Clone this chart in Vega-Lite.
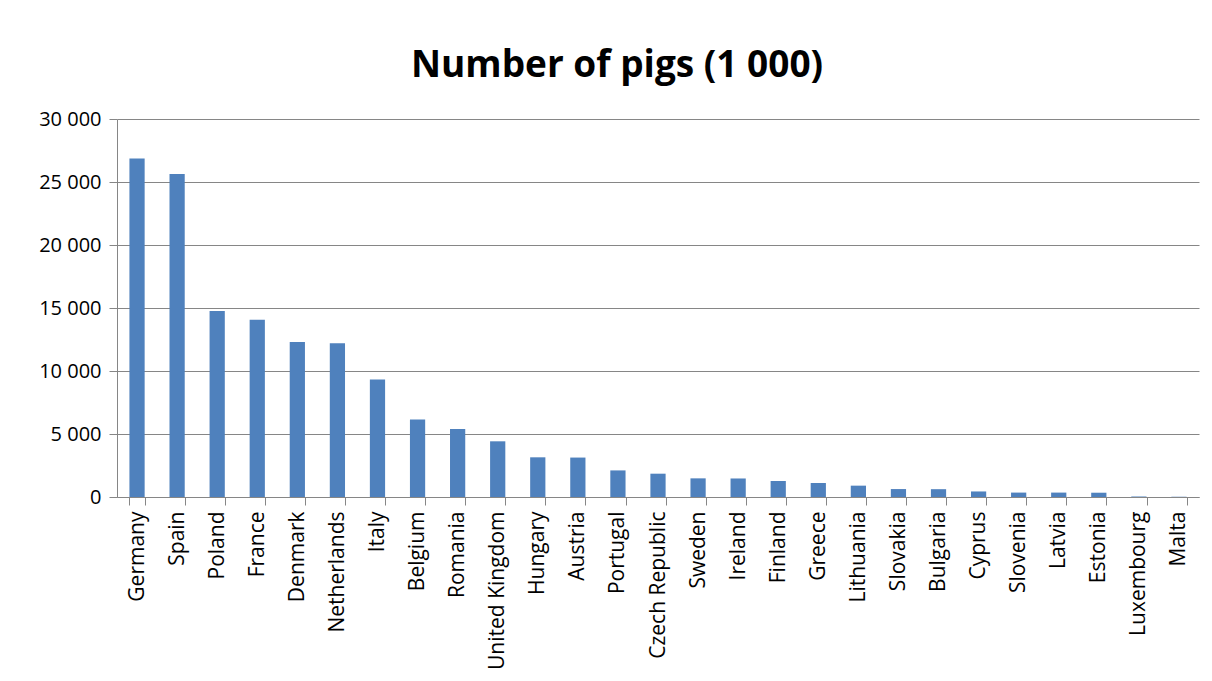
{
  "$schema": "https://vega.github.io/schema/vega-lite/v6.json",
  "width": 1082,
  "height": 378,
  "autosize": {"type": "none"},
  "padding": {"left": 117, "top": 119, "right": 13, "bottom": 184},
  "background": "white",
  "title": {
    "text": "Number of pigs (1 000)",
    "font": "Open Sans",
    "fontSize": 37,
    "fontWeight": "bold",
    "color": "black",
    "anchor": "middle",
    "dx": -41,
    "offset": 24
  },
  "data": {
    "values": [
      {"country": "Germany", "pigs": 26870},
      {"country": "Spain", "pigs": 25630},
      {"country": "Poland", "pigs": 14760},
      {"country": "France", "pigs": 14070},
      {"country": "Denmark", "pigs": 12300},
      {"country": "Netherlands", "pigs": 12200},
      {"country": "Italy", "pigs": 9330},
      {"country": "Belgium", "pigs": 6150},
      {"country": "Romania", "pigs": 5390},
      {"country": "United Kingdom", "pigs": 4420},
      {"country": "Hungary", "pigs": 3150},
      {"country": "Austria", "pigs": 3130},
      {"country": "Portugal", "pigs": 2110},
      {"country": "Czech Republic", "pigs": 1850},
      {"country": "Sweden", "pigs": 1480},
      {"country": "Ireland", "pigs": 1470},
      {"country": "Finland", "pigs": 1270},
      {"country": "Greece", "pigs": 1110},
      {"country": "Lithuania", "pigs": 900},
      {"country": "Slovakia", "pigs": 630},
      {"country": "Bulgaria", "pigs": 620},
      {"country": "Cyprus", "pigs": 440},
      {"country": "Slovenia", "pigs": 350},
      {"country": "Latvia", "pigs": 350},
      {"country": "Estonia", "pigs": 340},
      {"country": "Luxembourg", "pigs": 30},
      {"country": "Malta", "pigs": 20}
    ]
  },
  "mark": {"type": "bar", "color": "#4F81BD"},
  "encoding": {
    "x": {
      "field": "country",
      "type": "nominal",
      "sort": null,
      "scale": {"paddingInner": 0.62, "paddingOuter": 0.31},
      "axis": {
        "title": null,
        "labelAngle": -90,
        "labelAlign": "right",
        "labelBaseline": "middle",
        "labelFont": "Open Sans",
        "labelFontSize": 21,
        "labelColor": "black",
        "labelPadding": 6,
        "tickBand": "extent",
        "tickSize": 8,
        "tickColor": "#868686",
        "domainColor": "#868686",
        "grid": false
      }
    },
    "y": {
      "field": "pigs",
      "type": "quantitative",
      "scale": {"domain": [0, 30000], "nice": false},
      "axis": {
        "title": null,
        "values": [0, 5000, 10000, 15000, 20000, 25000, 30000],
        "labelExpr": "replace(format(datum.value, ','), ',', ' ')",
        "labelFont": "Open Sans",
        "labelFontSize": 20,
        "labelColor": "black",
        "labelPadding": 8,
        "tickSize": 8,
        "tickColor": "#868686",
        "domainColor": "#868686",
        "gridColor": "#868686",
        "gridOpacity": 1
      }
    }
  },
  "config": {"view": {"stroke": null}}
}
